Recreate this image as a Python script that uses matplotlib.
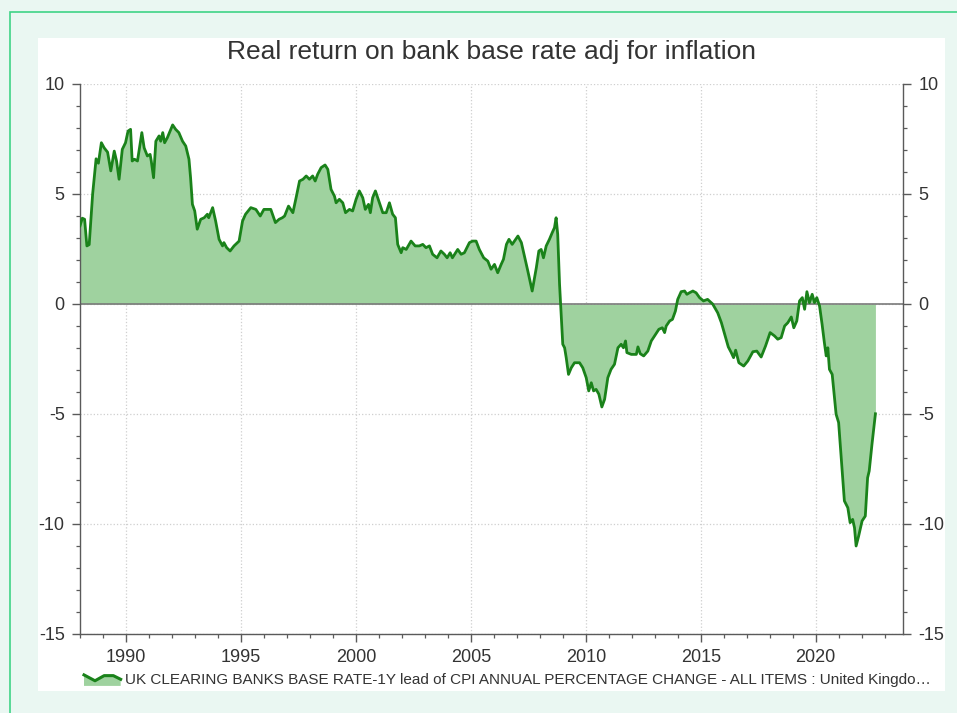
import matplotlib
matplotlib.use("Agg")
import matplotlib.pyplot as plt
from matplotlib.patches import Rectangle, Polygon
from matplotlib.lines import Line2D
from matplotlib.ticker import MultipleLocator
from matplotlib.legend_handler import HandlerBase

plt.rcParams['font.family'] = ['Liberation Sans', 'DejaVu Sans']
plt.rcParams['axes.unicode_minus'] = False

# base rate minus CPI one year ahead
years = [1988.0, 1988.1, 1988.2, 1988.3, 1988.4, 1988.55, 1988.7, 1988.8, 1988.93, 1989.05,
         1989.2, 1989.34, 1989.49, 1989.59, 1989.7, 1989.84, 1989.98, 1990.09, 1990.2, 1990.27,
         1990.37, 1990.5, 1990.69, 1990.79, 1990.93, 1991.05, 1991.1, 1991.2, 1991.3, 1991.44,
         1991.51, 1991.6, 1991.68, 1991.8, 1991.92, 1992.03, 1992.16, 1992.3, 1992.46, 1992.6,
         1992.74, 1992.81, 1992.89, 1992.99, 1993.1, 1993.25, 1993.4, 1993.54, 1993.6, 1993.77,
         1993.9, 1994.05, 1994.2, 1994.26, 1994.38, 1994.53, 1994.7, 1994.92, 1995.07, 1995.2,
         1995.43, 1995.65, 1995.84, 1996.0, 1996.3, 1996.5, 1996.66, 1996.8, 1996.9, 1997.07,
         1997.26, 1997.4, 1997.55, 1997.7, 1997.84, 1997.98, 1998.12, 1998.23, 1998.34, 1998.49,
         1998.66, 1998.78, 1998.92, 1999.07, 1999.14, 1999.28, 1999.43, 1999.55, 1999.72, 1999.86,
         2000.01, 2000.15, 2000.3, 2000.41, 2000.55, 2000.63, 2000.73, 2000.85, 2001.0, 2001.17,
         2001.32, 2001.46, 2001.6, 2001.72, 2001.82, 2001.97, 2002.04, 2002.19, 2002.4, 2002.58,
         2002.76, 2002.91, 2003.05, 2003.2, 2003.34, 2003.53, 2003.7, 2003.85, 2003.97, 2004.1,
         2004.2, 2004.43, 2004.58, 2004.72, 2004.94, 2005.08, 2005.23, 2005.37, 2005.56, 2005.74,
         2005.88, 2006.03, 2006.17, 2006.32, 2006.42, 2006.55, 2006.66, 2006.8, 2006.9, 2007.05,
         2007.2, 2007.3, 2007.48, 2007.67, 2007.85, 2007.96, 2008.06, 2008.16, 2008.28, 2008.42,
         2008.54, 2008.64, 2008.71, 2008.78, 2008.86, 2008.93, 2009.0, 2009.08, 2009.15, 2009.25,
         2009.37, 2009.51, 2009.73, 2009.87, 2010.02, 2010.13, 2010.24, 2010.34, 2010.45, 2010.57,
         2010.7, 2010.82, 2010.96, 2011.1, 2011.25, 2011.4, 2011.54, 2011.64, 2011.73, 2011.79,
         2011.98, 2012.2, 2012.27, 2012.37, 2012.52, 2012.7, 2012.85, 2013.04, 2013.18, 2013.33,
         2013.43, 2013.5, 2013.65, 2013.77, 2013.9, 2014.0, 2014.15, 2014.3, 2014.4, 2014.51,
         2014.66, 2014.8, 2014.95, 2015.12, 2015.3, 2015.52, 2015.74, 2015.9, 2016.05, 2016.2,
         2016.33, 2016.43, 2016.52, 2016.66, 2016.87, 2017.05, 2017.27, 2017.44, 2017.63, 2017.82,
         2018.02, 2018.21, 2018.35, 2018.5, 2018.65, 2018.79, 2018.94, 2019.05, 2019.18, 2019.3,
         2019.42, 2019.52, 2019.62, 2019.73, 2019.85, 2019.95, 2020.05, 2020.17, 2020.28, 2020.38,
         2020.46, 2020.53, 2020.6, 2020.72, 2020.82, 2020.89, 2021.0, 2021.11, 2021.25, 2021.4,
         2021.5, 2021.61, 2021.69, 2021.76, 2021.87, 2022.02, 2022.16, 2022.26, 2022.33, 2022.45,
         2022.6]
real_rate = [3.55, 3.9, 3.85, 2.64, 2.7, 5.0, 6.6, 6.4, 7.33, 7.1,
             6.9, 6.05, 6.95, 6.5, 5.67, 7.03, 7.33, 7.86, 7.94, 6.5,
             6.58, 6.5, 7.79, 7.1, 6.73, 6.8, 6.5, 5.74, 7.4, 7.64,
             7.4, 7.79, 7.33, 7.56, 7.86, 8.14, 7.94, 7.79, 7.4, 7.18,
             6.58, 5.74, 4.53, 4.23, 3.4, 3.85, 3.92, 4.08, 3.92, 4.38,
             3.77, 2.94, 2.64, 2.79, 2.56, 2.41, 2.64, 2.86, 3.77, 4.08,
             4.38, 4.3, 4.0, 4.3, 4.3, 3.7, 3.85, 3.92, 4.0, 4.45,
             4.15, 4.83, 5.59, 5.67, 5.82, 5.67, 5.82, 5.59, 5.9, 6.2,
             6.32, 6.12, 5.21, 4.9, 4.6, 4.76, 4.6, 4.15, 4.3, 4.23,
             4.76, 5.14, 4.83, 4.3, 4.53, 4.15, 4.83, 5.14, 4.68, 4.15,
             4.15, 4.6, 4.08, 3.92, 2.71, 2.33, 2.56, 2.48, 2.86, 2.64,
             2.64, 2.71, 2.56, 2.64, 2.26, 2.1, 2.41, 2.26, 2.1, 2.33,
             2.1, 2.48, 2.26, 2.33, 2.79, 2.86, 2.86, 2.48, 2.1, 1.95,
             1.58, 1.8, 1.42, 1.8, 2.03, 2.71, 2.94, 2.71, 2.86, 3.09,
             2.79, 2.33, 1.5, 0.59, 1.65, 2.41, 2.48, 2.1, 2.64, 2.94,
             3.24, 3.47, 3.92, 3.17, 0.9, -0.47, -1.83, -1.99, -2.44, -3.2,
             -2.9, -2.67, -2.67, -2.9, -3.35, -3.95, -3.58, -3.95, -3.88, -4.1,
             -4.68, -4.33, -3.35, -2.97, -2.74, -1.99, -1.83, -1.99, -1.68, -2.21,
             -2.29, -2.29, -1.95, -2.26, -2.36, -2.14, -1.68, -1.38, -1.15, -1.08,
             -1.3, -1.0, -0.77, -0.7, -0.32, 0.21, 0.56, 0.59, 0.44, 0.51,
             0.59, 0.51, 0.29, 0.14, 0.21, 0.0, -0.4, -0.85, -1.4, -1.95,
             -2.21, -2.44, -2.1, -2.67, -2.82, -2.59, -2.17, -2.14, -2.41, -1.91,
             -1.3, -1.45, -1.6, -1.53, -1.0, -0.85, -0.59, -1.08, -0.77, 0.14,
             0.29, -0.24, 0.56, 0.06, 0.44, 0.06, 0.29, -0.09, -0.92, -1.76,
             -2.36, -1.99, -2.97, -3.2, -4.26, -5.01, -5.39, -6.98, -8.95, -9.26,
             -9.94, -9.79, -10.17, -11.0, -10.55, -9.86, -9.64, -7.9, -7.59, -6.38,
             -4.99]

series_label = ("UK CLEARING BANKS BASE RATE-1Y lead of CPI ANNUAL PERCENTAGE CHANGE"
                " - ALL ITEMS : United Kingdo\u2026")
title = "Real return on bank base rate adj for inflation"

line_col = "#1a821a"
fill_col = "#9fd29f"
axis_col = "#5a5a5a"
text_col = "#333333"


class AreaIcon(HandlerBase):
    # little wavy area glyph like the one in the original legend
    def create_artists(self, legend, orig_handle, xd, yd, width, height, fontsize, trans):
        fx = [0, 0.3, 0.55, 0.8, 1.0]
        fy = [0.75, 0.35, 0.7, 0.7, 0.45]
        xs = [xd * -1 + f * width for f in fx]
        ys = [yd * -1 + f * height for f in fy]
        poly = Polygon(list(zip(xs, ys)) + [(xs[-1], -yd), (xs[0], -yd)], closed=True,
                       facecolor=fill_col, edgecolor="none", transform=trans)
        ln = Line2D(xs, ys, color=line_col, linewidth=2.2, transform=trans)
        return [poly, ln]


W, H = 957, 713
fig = plt.figure(figsize=(W / 100, H / 100), dpi=100)
fig.patch.set_facecolor("#eaf7f2")

# green frame and the white panel behind the chart
fig.patches.append(Rectangle((10 / W, -0.05), 1.2, 1.05 - 12 / H, transform=fig.transFigure,
                             facecolor="none", edgecolor="#3fd487", linewidth=1.2, zorder=0))
fig.patches.append(Rectangle((38 / W, 1 - 691 / H), (945 - 38) / W, (691 - 38) / H,
                             transform=fig.transFigure, facecolor="white", edgecolor="none",
                             zorder=0))

ax = fig.add_axes([80 / W, 1 - 634 / H, (903 - 80) / W, 550 / H])
ax.set_zorder(2)
ax.set_facecolor("none")

fill = ax.fill_between(years, real_rate, 0, color=fill_col, linewidth=0, zorder=2)
line, = ax.plot(years, real_rate, color=line_col, linewidth=2.0, zorder=3)
ax.axhline(0, color="#7a7a7a", linewidth=1.2, zorder=2.5)

ax.set_xlim(1988.0, 2023.8)
ax.set_ylim(-15, 10)
ax.xaxis.set_major_locator(MultipleLocator(5))
ax.xaxis.set_minor_locator(MultipleLocator(1))
ax.yaxis.set_major_locator(MultipleLocator(5))
ax.yaxis.set_minor_locator(MultipleLocator(1))

ax.grid(True, which="major", color="#cfcfcf", linestyle=":", linewidth=0.9, zorder=1)
ax.set_axisbelow(True)

ax.spines["top"].set_visible(False)
for s in ["left", "right", "bottom"]:
    ax.spines[s].set_color(axis_col)
    ax.spines[s].set_linewidth(1.0)

ax.tick_params(which="major", direction="out", length=6, width=1, color=axis_col,
               labelsize=13, labelcolor=text_col, pad=5,
               left=True, right=True, labelleft=True, labelright=True)
ax.tick_params(which="minor", direction="out", length=3, width=0.9, color=axis_col,
               left=True, right=True)

fig.text(491 / W, 1 - 52 / H, title, ha="center", va="center", fontsize=19, color=text_col)

leg = fig.legend([line], [series_label], loc="center left",
                 bbox_to_anchor=(84 / W, 1 - 679 / H), frameon=False, fontsize=11,
                 handlelength=2.4, handleheight=1.1, handletextpad=0.3,
                 borderpad=0, borderaxespad=0,
                 handler_map={Line2D: AreaIcon()})
leg.set_zorder(3)
for t in leg.get_texts():
    t.set_color(text_col)

fig.savefig("out.png", dpi=100, facecolor=fig.get_facecolor())
